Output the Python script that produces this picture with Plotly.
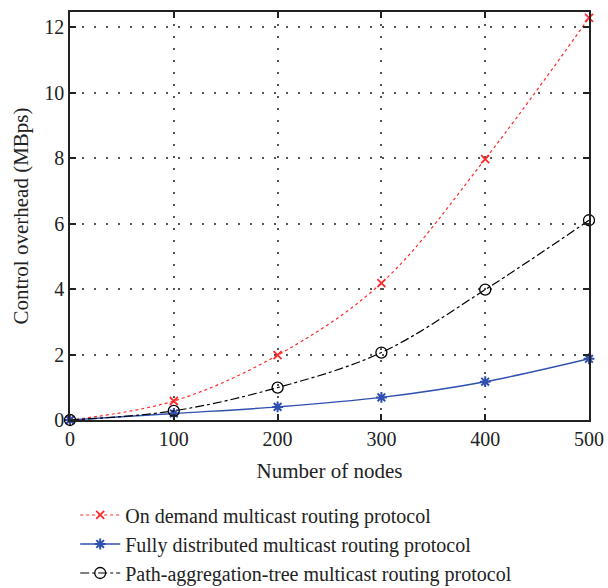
import plotly.graph_objects as go

nodes = [0, 100, 200, 300, 400, 500]
on_demand = [0, 0.58, 1.98, 4.18, 7.97, 12.28]
fully_distributed = [0, 0.2, 0.4, 0.69, 1.17, 1.87]
path_aggregation = [0, 0.28, 0.99, 2.06, 3.98, 6.1]

names = ["On demand multicast routing protocol",
         "Fully distributed multicast routing protocol",
         "Path-aggregation-tree multicast routing protocol"]

FONT = "Liberation Serif"

fig = go.Figure()
fig.add_trace(go.Scatter(
    x=nodes, y=on_demand, name=names[0], mode="lines+markers",
    line=dict(color="#ff2a2a", width=1.2, dash="dot", shape="spline"),
    marker=dict(symbol="x-thin-open", size=8, color="#ff2a2a",
                line=dict(color="#ff2a2a", width=1.8)),
    cliponaxis=False))
fig.add_trace(go.Scatter(
    x=nodes, y=fully_distributed, name=names[1], mode="lines+markers",
    line=dict(color="#3050b0", width=1.4, dash="solid", shape="spline"),
    marker=dict(symbol="asterisk-open", size=9, color="#3050b0",
                line=dict(color="#3050b0", width=2)),
    cliponaxis=False))
fig.add_trace(go.Scatter(
    x=nodes, y=path_aggregation, name=names[2], mode="lines+markers",
    line=dict(color="black", width=1.2, dash="dashdot", shape="spline"),
    marker=dict(symbol="circle-open", size=11, color="black",
                line=dict(color="black", width=1.3)),
    cliponaxis=False))

axis_common = dict(
    showline=True, linecolor="#222", linewidth=1.5, mirror="ticks",
    ticks="inside", ticklen=6, tickcolor="#222", tickwidth=1.5,
    showgrid=True, gridcolor="#555", griddash="1.5px,10.5px", gridwidth=1.5,
    zeroline=False, automargin=False,
    tickfont=dict(family=FONT, size=20, color="#222"),
)

fig.update_xaxes(range=[0, 500], tickvals=nodes, **axis_common,
                 title=dict(text="Number of nodes",
                            font=dict(family=FONT, size=21, color="#222"),
                            standoff=15))
fig.update_yaxes(range=[0, 12.46], tickvals=[0, 2, 4, 6, 8, 10, 12], **axis_common,
                 title=dict(text="Control overhead (MBps)",
                            font=dict(family=FONT, size=21, color="#222"),
                            standoff=10))

fig.update_layout(
    width=608, height=588,
    margin=dict(l=70, r=19, t=12, b=168, autoexpand=False),
    plot_bgcolor="white", paper_bgcolor="white",
    font=dict(family=FONT, size=21, color="#222"),
    showlegend=True,
    legend=dict(x=0.01, xanchor="left", y=-0.185, yanchor="top",
                font=dict(family=FONT, size=20, color="#222"),
                bgcolor="rgba(0,0,0,0)", tracegroupgap=0,
                itemwidth=40),
)

fig.write_html("out.html", config={"displayModeBar": False},
               post_script="document.body.style.margin='0';document.body.style.overflow='hidden';")
